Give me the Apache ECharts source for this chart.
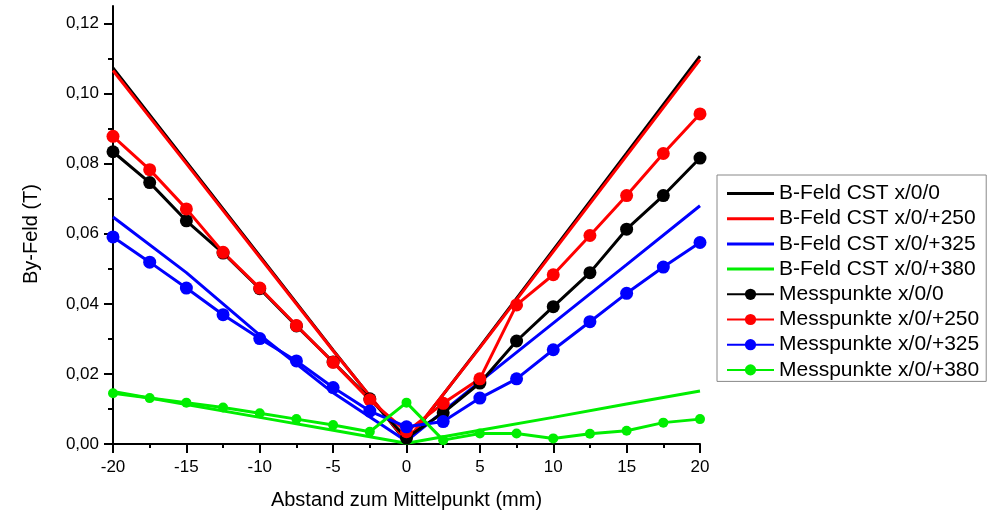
<!DOCTYPE html>
<html>
<head>
<meta charset="utf-8">
<script src="https://cdn.jsdelivr.net/npm/echarts@6/dist/echarts.min.js"></script>
<style>
html, body { margin: 0; padding: 0; background: #fff; }
#container { width: 992px; height: 512px; }
</style>
</head>
<body>
<div id="container"></div>
<script>
var dom = document.getElementById("container");
var myChart = echarts.init(dom);

// Messpunkte positions (mm)
var messX = [-20, -17.5, -15, -12.5, -10, -7.5, -5, -2.5, 0, 2.5, 5, 7.5, 10, 12.5, 15, 17.5, 20];
var mess0   = [0.0834, 0.0746, 0.0637, 0.0545, 0.0443, 0.0337, 0.0234, 0.0129, 0.0017, 0.0089, 0.0174, 0.0294, 0.0392, 0.0489, 0.0613, 0.0709, 0.0816];
var mess250 = [0.0878, 0.0783, 0.0671, 0.0547, 0.0445, 0.0338, 0.0233, 0.0126, 0.0035, 0.0116, 0.0186, 0.0397, 0.0483, 0.0595, 0.0709, 0.0829, 0.0942];
var mess325 = [0.0591, 0.0519, 0.0445, 0.0369, 0.0301, 0.0237, 0.0161, 0.0094, 0.0049, 0.0064, 0.0131, 0.0186, 0.0269, 0.0349, 0.0430, 0.0505, 0.0575];
var mess380 = [0.0145, 0.0131, 0.0118, 0.0104, 0.0088, 0.0071, 0.0054, 0.0035, 0.0118, 0.0011, 0.0030, 0.0030, 0.0016, 0.0029, 0.0038, 0.0061, 0.0071];

// CST simulation
var cstX = [-20, -15, -10, -5, 0, 5, 10, 15, 20];
var cst0   = [0.1073, 0.0805, 0.0537, 0.0268, 0.0005, 0.0277, 0.0554, 0.0830, 0.1107];
var cst250 = [0.1066, 0.0800, 0.0533, 0.0266, 0.0008, 0.0275, 0.0549, 0.0823, 0.1097];
var cst325 = [0.0648, 0.0489, 0.0311, 0.0146, 0.0008, 0.0178, 0.0345, 0.0512, 0.0680];
var cst380 = [0.0150, 0.0113, 0.0076, 0.0039, 0.0002, 0.0039, 0.0076, 0.0114, 0.0151];

var yMajor = [0, 0.02, 0.04, 0.06, 0.08, 0.10, 0.12];
var yMinor = [0.01, 0.03, 0.05, 0.07, 0.09, 0.11];

var font = '"Liberation Sans", Arial, sans-serif';
var lineIcon = 'path://M0,0 L47,0 L47,3 L0,3 Z';

function pairs(xs, ys) {
    var out = [];
    for (var i = 0; i < xs.length; i++) out.push([xs[i], ys[i]]);
    return out;
}

function cst(name, color, ys) {
    return {
        name: name, type: 'line', data: pairs(cstX, ys),
        symbol: 'none', lineStyle: { color: color, width: 3 }, itemStyle: { color: color },
        z: 2, animation: false
    };
}

function mess(name, color, ys, size) {
    return {
        name: name, type: 'line', data: pairs(messX, ys),
        symbol: 'circle', symbolSize: size, showAllSymbol: true,
        lineStyle: { color: color, width: 3 }, itemStyle: { color: color },
        z: 3, animation: false
    };
}

var option = {
    backgroundColor: '#fff',
    animation: false,
    textStyle: { fontFamily: font },
    grid: { left: 113, right: 292, top: 6, bottom: 68, containLabel: false, outerBoundsMode: 'none' },
    legend: {
        orient: 'vertical', left: 717, top: 175,
        borderColor: '#888', borderWidth: 1, padding: [8, 7, 1, 9],
        itemWidth: 47, itemHeight: 14, itemGap: 4.2,
        textStyle: { fontSize: 21, color: '#000', fontFamily: font },
        data: [
            { name: 'B-Feld CST x/0/0', icon: lineIcon },
            { name: 'B-Feld CST x/0/+250', icon: lineIcon },
            { name: 'B-Feld CST x/0/+325', icon: lineIcon },
            { name: 'B-Feld CST x/0/+380', icon: lineIcon },
            'Messpunkte x/0/0', 'Messpunkte x/0/+250', 'Messpunkte x/0/+325', 'Messpunkte x/0/+380'
        ]
    },
    xAxis: {
        type: 'value', min: -20, max: 20, interval: 5,
        name: 'Abstand zum Mittelpunkt (mm)', nameLocation: 'middle', nameGap: 46,
        nameTextStyle: { fontSize: 20, color: '#000', fontFamily: font },
        axisLine: { onZero: false, lineStyle: { color: '#000', width: 2 } },
        axisTick: { length: 9, lineStyle: { color: '#000', width: 2 } },
        minorTick: { show: true, splitNumber: 2, length: 4, lineStyle: { color: '#000', width: 2 } },
        axisLabel: { fontSize: 17, color: '#000', margin: 15, fontFamily: font },
        splitLine: { show: false }
    },
    yAxis: [{
        type: 'value', min: 0, max: 0.125,
        name: 'By-Feld (T)', nameLocation: 'middle', nameGap: 72, nameRotate: 90,
        nameTextStyle: { fontSize: 20, color: '#000', fontFamily: font, padding: [0, 18, 0, 0] },
        axisLine: { show: true, onZero: false, lineStyle: { color: '#000', width: 2 } },
        axisTick: { length: 9, customValues: yMajor, lineStyle: { color: '#000', width: 2 } },
        axisLabel: {
            fontSize: 17, color: '#000', margin: 14, fontFamily: font, customValues: yMajor,
            formatter: function (v) { return v.toFixed(2).replace('.', ','); }
        },
        splitLine: { show: false }
    }, {
        type: 'value', min: 0, max: 0.125, position: 'left',
        axisLine: { show: false, onZero: false },
        axisTick: { show: true, length: 5, customValues: yMinor, lineStyle: { color: '#000', width: 2 } },
        axisLabel: { show: false },
        splitLine: { show: false }
    }],
    series: [
        cst('B-Feld CST x/0/0', '#000000', cst0),
        cst('B-Feld CST x/0/+250', '#ff0000', cst250),
        cst('B-Feld CST x/0/+325', '#0000ff', cst325),
        cst('B-Feld CST x/0/+380', '#00ee00', cst380),
        mess('Messpunkte x/0/0', '#000000', mess0, 13),
        mess('Messpunkte x/0/+250', '#ff0000', mess250, 13),
        mess('Messpunkte x/0/+325', '#0000ff', mess325, 13),
        mess('Messpunkte x/0/+380', '#00ee00', mess380, 10)
    ]
};
myChart.setOption(option);
</script>
</body>
</html>
